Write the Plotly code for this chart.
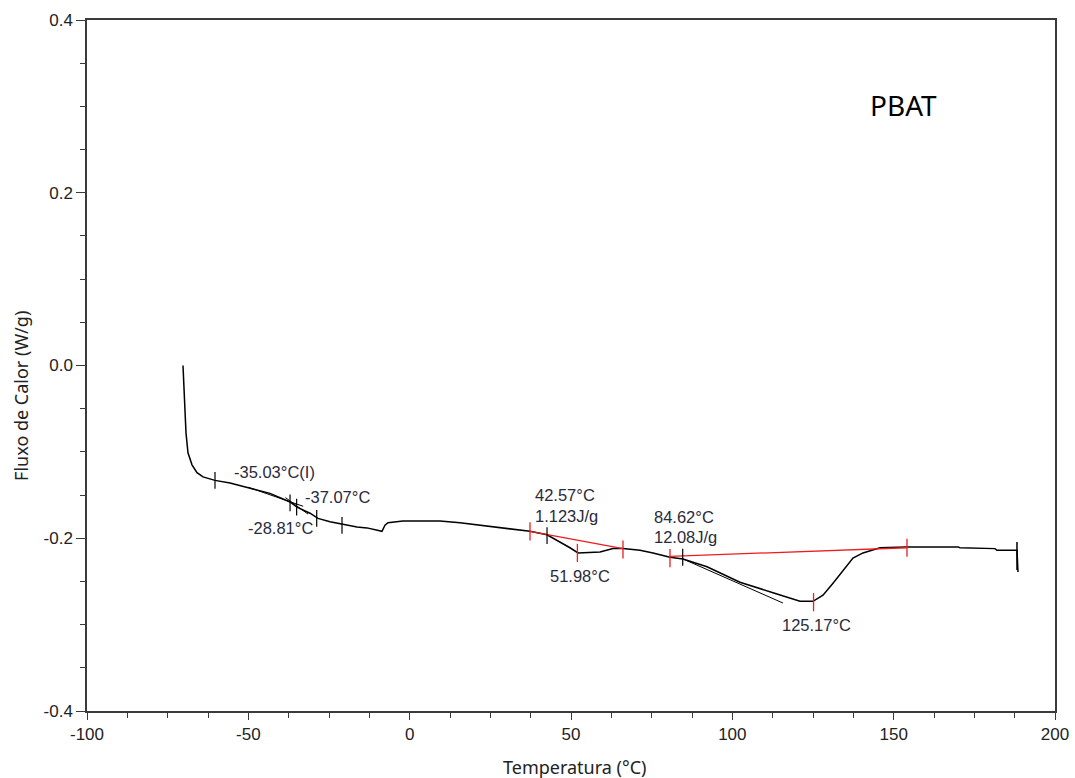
import plotly.graph_objects as go

# ---- DSC curve (PBAT) ----
temp = [-70.25, -69.63, -69.32, -68.70, -67.46, -65.91, -64.05, -60.33, -55.68, -48.55,
        -43.29, -37.09, -34.92, -30.89, -28.41, -24.69, -20.97, -16.32, -13.22, -8.58,
        -7.65, -6.72, -2.07, 9.40, 15.60, 23.97, 32.02, 37.29, 42.56, 46.59,
        49.69, 52.17, 58.99, 63.02, 66.11, 71.38, 75.41, 80.68, 84.71, 92.15,
        102.37, 112.60, 120.97, 125.00, 128.10, 131.20, 134.30, 137.39, 140.49, 145.76,
        154.13, 155.68, 169.93, 170.55, 181.40, 182.02, 188.22, 188.53]
flux = [0.000, -0.049, -0.078, -0.101, -0.115, -0.124, -0.129, -0.133, -0.136, -0.143,
        -0.148, -0.158, -0.164, -0.171, -0.177, -0.181, -0.184, -0.187, -0.188, -0.192,
        -0.185, -0.182, -0.180, -0.180, -0.182, -0.186, -0.189, -0.192, -0.196, -0.204,
        -0.211, -0.217, -0.216, -0.212, -0.212, -0.214, -0.217, -0.222, -0.224, -0.233,
        -0.251, -0.263, -0.273, -0.273, -0.266, -0.252, -0.237, -0.223, -0.217, -0.211,
        -0.210, -0.210, -0.210, -0.211, -0.212, -0.214, -0.214, -0.239]

# red integration baselines
base1_t = [37.29, 66.11]
base1_f = [-0.192, -0.212]
base2_t = [80.68, 154.13]
base2_f = [-0.221, -0.211]

# black tangent lines
tan_t = [-50.0, -33.0, None, -38.5, -31.5, None, 84.71, 115.7]
tan_f = [-0.141, -0.163, None, -0.153, -0.172, None, -0.224, -0.275]

# black tick markers on the curve
blk_t = [-60.33, -37.07, -35.03, -28.81, -20.97, 42.57, 84.62]
blk_f = [-0.133, -0.159, -0.164, -0.177, -0.185, -0.197, -0.222]

# red tick markers
red_t = [37.29, 51.98, 66.11, 80.68, 125.17, 154.13]
red_f = [-0.192, -0.217, -0.213, -0.223, -0.274, -0.211]

# end-of-run marker
end_t = [188.22]
end_f = [-0.2205]

# labels
lab_text = ["-35.03°C(I)", "-37.07°C", "-28.81°C", "42.57°C", "1.123J/g",
            "51.98°C", "84.62°C", "12.08J/g", "125.17°C"]
lab_t = [-55.06, -33.06, -50.72, 38.22, 38.22, 42.87, 75.10, 75.10, 114.77]
lab_f = [-0.1233, -0.1528, -0.1887, -0.1505, -0.1748, -0.2437, -0.1754, -0.1991, -0.2999]

x_ticks = [-100, -50, 0, 50, 100, 150, 200]
x_ticklabels = ["-100", "-50", "0", "50", "100", "150", "200"]
y_ticks = [-0.4, -0.2, 0.0, 0.2, 0.4]
y_ticklabels = ["-0.4", "-0.2", "0.0", "0.2", "0.4"]

RED = "#ee1c1c"

fig = go.Figure()
fig.add_trace(go.Scatter(x=temp, y=flux, mode="lines",
                         line=dict(color="black", width=1.5), hoverinfo="skip"))
fig.add_trace(go.Scatter(x=tan_t, y=tan_f, mode="lines",
                         line=dict(color="black", width=1), hoverinfo="skip"))
fig.add_trace(go.Scatter(x=base1_t, y=base1_f, mode="lines",
                         line=dict(color=RED, width=1.3), hoverinfo="skip"))
fig.add_trace(go.Scatter(x=base2_t, y=base2_f, mode="lines",
                         line=dict(color=RED, width=1.3), hoverinfo="skip"))
fig.add_trace(go.Scatter(x=blk_t, y=blk_f, mode="markers",
                         marker=dict(symbol="line-ns", size=12,
                                     line=dict(color="black", width=1.2)),
                         hoverinfo="skip"))
fig.add_trace(go.Scatter(x=red_t, y=red_f, mode="markers",
                         marker=dict(symbol="line-ns", size=13,
                                     line=dict(color=RED, width=1.3)),
                         hoverinfo="skip"))
fig.add_trace(go.Scatter(x=end_t, y=end_f, mode="markers",
                         marker=dict(symbol="line-ns", size=20,
                                     line=dict(color="black", width=1.5)),
                         hoverinfo="skip"))

annotations = []
for t, f, s in zip(lab_t, lab_f, lab_text):
    annotations.append(dict(x=t, y=f, xref="x", yref="y", text=s, showarrow=False,
                            xanchor="left", yanchor="middle",
                            font=dict(family="Liberation Sans, Arial", size=16.5,
                                      color="#2a2a3a")))
annotations.append(dict(x=153.2, y=0.302, xref="x", yref="y", text="PBAT",
                        showarrow=False, xanchor="center", yanchor="middle",
                        font=dict(family="Noto Sans", size=28, color="black")))
annotations.append(dict(x=0.504, y=-0.081, xref="paper", yref="paper",
                        text="Temperatura (°C)", showarrow=False,
                        xanchor="center", yanchor="middle",
                        font=dict(family="Noto Sans", size=18, color="#222")))
annotations.append(dict(x=-0.0682, y=0.456, xref="paper", yref="paper",
                        text="Fluxo de Calor (W/g)", showarrow=False, textangle=-90,
                        xanchor="center", yanchor="middle",
                        font=dict(family="Noto Sans", size=18, color="#222")))

axis_common = dict(showline=True, linecolor="#3a3a3a", linewidth=1.5, mirror=True,
                   ticks="outside", tickcolor="#3a3a3a", tickwidth=1.2,
                   showgrid=False, zeroline=False, automargin=False,
                   tickfont=dict(family="Liberation Sans, Arial", size=17, color="#222"))

fig.update_layout(
    width=1075, height=778,
    margin=dict(l=87, r=20, t=20, b=67, autoexpand=False),
    paper_bgcolor="white", plot_bgcolor="white",
    showlegend=False,
    annotations=annotations,
    xaxis=dict(range=[-100, 200], tickvals=x_ticks, ticktext=x_ticklabels, ticklen=7,
               minor=dict(dtick=12.5, ticklen=5, ticks="outside", tickcolor="#3a3a3a"),
               **axis_common),
    yaxis=dict(range=[-0.4, 0.4], tickvals=y_ticks, ticktext=y_ticklabels, ticklen=9,
               minor=dict(dtick=0.05, ticklen=5, ticks="outside", tickcolor="#3a3a3a"),
               **axis_common),
)

fig.write_html("out.html")
